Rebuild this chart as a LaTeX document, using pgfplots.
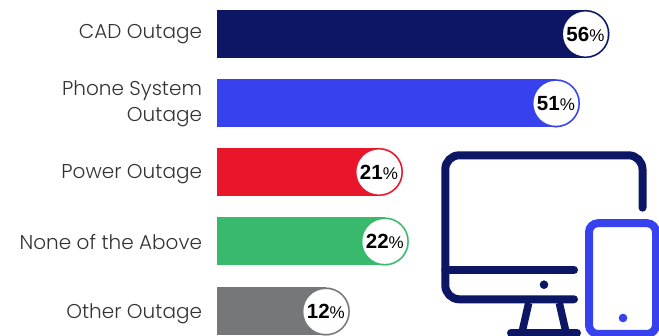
\documentclass[border=0pt]{standalone}
\usepackage{pgfplots}
\usepackage{fontspec}
\pgfplotsset{compat=1.18}
\setmainfont{Poppins}[UprightFont=* Light]
\newfontfamily\valuefont{Liberation Sans}
\definecolor{navy}{HTML}{0D1665}
\definecolor{royal}{HTML}{3742EE}
\definecolor{crimson}{HTML}{E8152B}
\definecolor{emerald}{HTML}{39B96B}
\definecolor{slate}{HTML}{75787B}
\definecolor{labelgrey}{HTML}{333333}
% One horizontal bar: a butt-capped stroke ending in a ring and a white disc
% centred on the value, with the value printed inside the disc.
\newcommand{\outagebar}[3]{%
  \addplot[#1, line width=48pt, line cap=butt, mark=*, mark indices={2},
    mark size=24pt, mark options={solid, fill=#1, draw=#1, line width=0.1pt}]
    coordinates {(-6.36,#3) (#2,#3)};
  \addplot[only marks, mark=*, mark size=22.3pt,
    mark options={fill=white, draw=white, line width=0.1pt},
    point meta=x,
    nodes near coords={{\valuefont\fontsize{20.5}{20.5}\selectfont\bfseries
      \pgfmathprintnumber[assume math mode=true]{\pgfplotspointmeta}}{\valuefont\fontsize{17}{17}\selectfont\%}},
    nodes near coords align={center},
    every node near coord/.append style={text=black, anchor=center, inner sep=0pt}]
    coordinates {(#2,#3)};
}
\begin{document}
\begin{tikzpicture}
\path[use as bounding box] (-217.5pt,0pt) rectangle (441.5pt,336pt);
\begin{axis}[
  at={(0pt,0pt)}, anchor=south west,
  scale only axis, width=441.5pt, height=336pt,
  xmin=-6.36, xmax=68.47,
  ymin=0, ymax=336, y dir=reverse,
  axis line style={draw=none},
  major tick length=0pt,
  xtick=\empty,
  ytick={34.5,103.8,174.5,242,314},
  yticklabels={CAD Outage,{Phone System\\Outage},Power Outage,None of the Above,Other Outage},
  yticklabel style={align=right, text=labelgrey, xshift=-12pt,
    font=\fontsize{20}{26}\selectfont},
  clip=false,
]
\outagebar{navy}{56}{34}
\outagebar{royal}{51}{103.3}
\outagebar{crimson}{21}{172}
\outagebar{emerald}{22}{241.5}
\outagebar{slate}{12}{311.5}
\end{axis}
% Monitor and phone pictogram, laid out on a pixel grid with y running downwards
\begin{scope}[shift={(-217.5pt,336pt)}, x=1pt, y=-1pt]
  \clip (0,0) rectangle (659,336);
  \begin{scope}[navy, line width=8pt, line cap=round]
    \draw[rounded corners=14pt] (642.5,207.7) -- (642.5,155.3) -- (445.3,155.3)
      -- (445.3,299.3) -- (574,299.3);
    \draw (445.3,270) -- (574,270);
    \draw (511,333) -- (577,333);
    \draw[line cap=butt, line width=7.5pt] (528.7,303) -- (522.3,331);
    \draw[line cap=butt, line width=7.5pt] (559.3,303) -- (565.7,331);
    \fill (544,284.7) circle[radius=4.3pt];
  \end{scope}
  \begin{scope}[royal, line width=8pt]
    \draw[rounded corners=9pt] (589,223.2) rectangle (656,334);
    \fill (623,318) circle[radius=4.3pt];
  \end{scope}
\end{scope}
\end{tikzpicture}
\end{document}
